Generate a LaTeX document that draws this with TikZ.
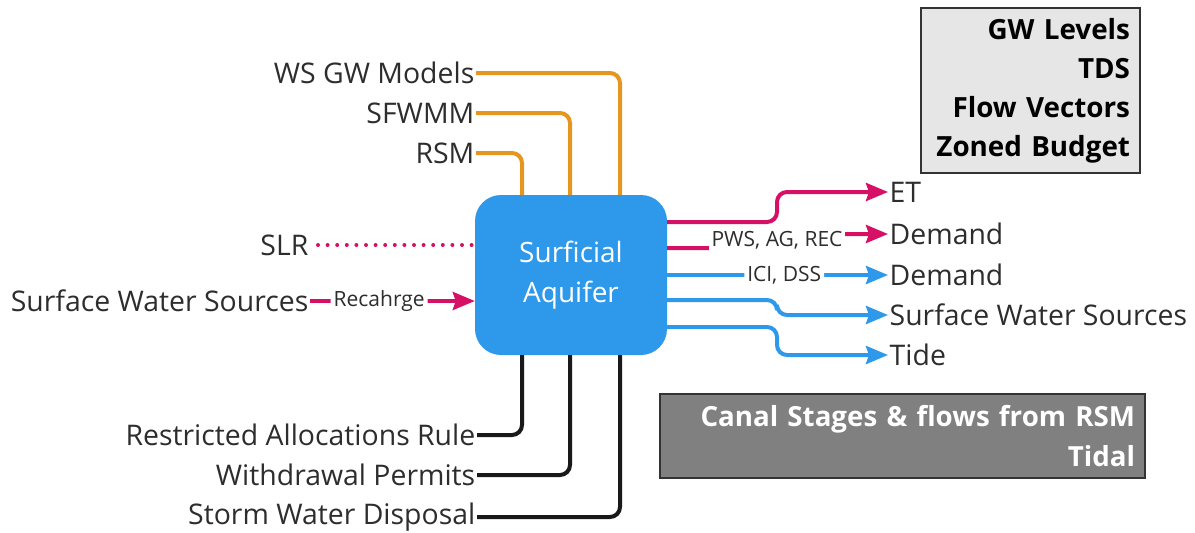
\documentclass[tikz,border=0pt]{standalone}
\usepackage{fontspec}
\setmainfont{Open Sans}
\usetikzlibrary{arrows.meta,calc}
\definecolor{aqblue}{RGB}{46,152,235}
\definecolor{orng}{RGB}{228,150,30}
\definecolor{mag}{RGB}{214,16,100}
\definecolor{txt}{RGB}{45,45,45}
\definecolor{lgray}{RGB}{230,230,230}
\definecolor{dgray}{RGB}{128,128,128}
\begin{document}
\begin{tikzpicture}[x=1pt,y=-1pt,
  lbl/.style={font=\fontsize{28.4}{32}\selectfont, text=txt, inner sep=1.5pt},
  small/.style={font=\fontsize{21}{24}\selectfont, text=txt, fill=white, inner sep=3pt},
  conn/.style={line width=4pt, rounded corners=10pt},
  arr/.style={conn, -{Stealth[length=22pt,width=18pt,inset=3pt]}},
  infobox/.style={draw=black!80, line width=2pt, font=\fontsize{27.8}{39}\selectfont\bfseries, align=right, inner sep=10pt, anchor=north west}
]
\useasboundingbox (0,0) rectangle (1195,533);

\node[fill=aqblue, rounded corners=26pt, minimum width=192pt, minimum height=160pt, text=white, align=center, font=\fontsize{28}{40}\selectfont] (aq) at (571,275) {Surficial\\Aquifer};

% top inputs (orange)
\node[lbl, anchor=east] (ws) at (476,73) {WS GW Models};
\node[lbl, anchor=east] (sf) at (476,113) {SFWMM};
\node[lbl, anchor=east] (rsm) at (476,153) {RSM};
\draw[conn, orng] (ws.east) -| ($(aq.north)+(49,0)$);
\draw[conn, orng] (sf.east) -| ($(aq.north)+(-1,0)$);
\draw[conn, orng] (rsm.east) -| ($(aq.north)+(-49,0)$);

% bottom (black)
\node[lbl, anchor=east] (rar) at (477,435) {Restricted Allocations Rule};
\node[lbl, anchor=east] (wp) at (477,475) {Withdrawal Permits};
\node[lbl, anchor=east] (swd) at (477,517) {Storm Water Disposal};
\draw[conn, black!90] (rar.east) -| ($(aq.south)+(-49,0)$);
\draw[conn, black!90] (wp.east) -| ($(aq.south)+(-1,0)$);
\draw[conn, black!90] (swd.east) -| ($(aq.south)+(49,0)$);

% SLR & recharge
\node[lbl, anchor=east] (slr) at (310,245) {SLR};
\draw[mag, line width=4pt, line cap=round, dash pattern=on 0pt off 9.6pt] ($(slr.east)+(8,0)$) -- (aq.west |- slr.east);
\node[lbl, anchor=east] (sws) at (310,301) {Surface Water Sources};
\draw[arr, mag] (sws.east) -- node[small, pos=0.42]{Recahrge} (aq.west |- sws.east);

% outputs
\node[lbl, anchor=west] (et) at (888,192) {ET};
\node[lbl, anchor=west] (dm1) at (888,234) {Demand};
\node[lbl, anchor=west] (dm2) at (888,275) {Demand};
\node[lbl, anchor=west] (swo) at (888,315) {Surface Water Sources};
\node[lbl, anchor=west] (tide) at (888,355) {Tide};

\draw[arr, mag] ($(aq.east)+(0,-53)$) -| ($(et.west)+(-111,0)$) -- (et.west);
\draw[arr, mag] ($(aq.east)+(0,-27)$) -| ($(dm1.west)+(-111,0)$) -- (dm1.west);
\node[small] (pws) at (777,240) {PWS, AG, REC};
\draw[arr, aqblue] (aq.east |- dm2.west) -- node[small, pos=0.53]{ICI, DSS} (dm2.west);
\draw[arr, aqblue] ($(aq.east)+(0,25)$) -| ($(swo.west)+(-111,0)$) -- (swo.west);
\draw[arr, aqblue] ($(aq.east)+(0,52)$) -| ($(tide.west)+(-111,0)$) -- (tide.west);

% info boxes
\node[infobox, fill=lgray, text=black, text width=199pt, minimum height=165pt] (ib1) at (920,7) {GW Levels\\TDS\\Flow Vectors\\Zoned Budget};
\node[infobox, fill=dgray, text=white, text width=465pt, minimum height=84pt, font=\fontsize{27.7}{40}\selectfont\bfseries] (ib2) at (659,393) {Canal Stages \& flows from RSM\\Tidal};
\end{tikzpicture}
\end{document}
